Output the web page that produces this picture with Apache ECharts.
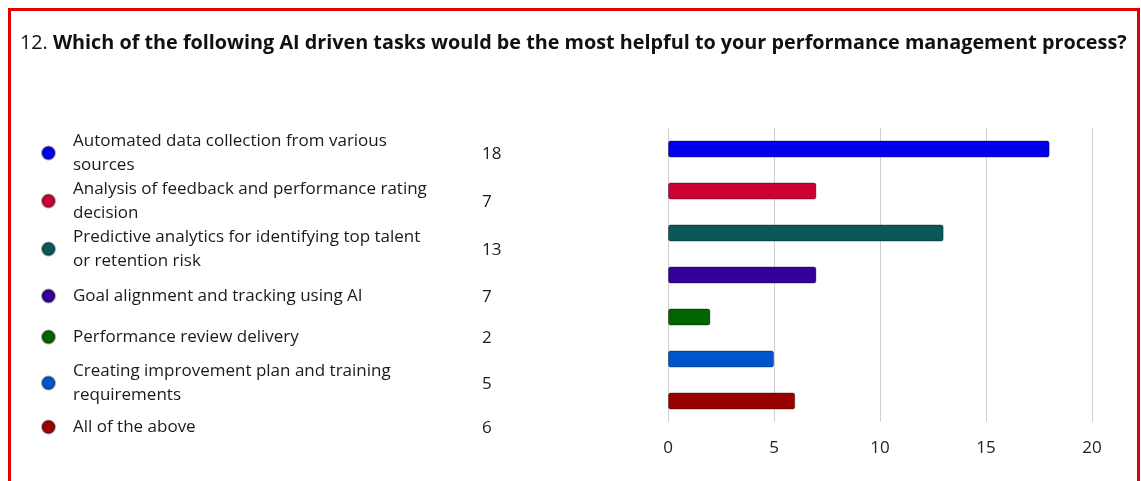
<!DOCTYPE html>
<html>
<head>
<meta charset="utf-8">
<script src="https://cdn.jsdelivr.net/npm/echarts@6/dist/echarts.min.js"></script>
<style>
  html, body { margin: 0; padding: 0; background: #fff; }
  #main { width: 1141px; height: 481px; }
</style>
</head>
<body>
<div id="main"></div>
<script>
// answers, as shown in the list (wrapped the same way)
var categories = [
  'Automated data collection from various\nsources',
  'Analysis of feedback and performance rating\ndecision',
  'Predictive analytics for identifying top talent\nor retention risk',
  'Goal alignment and tracking using AI',
  'Performance review delivery',
  'Creating improvement plan and training\nrequirements',
  'All of the above'
];
var counts = [18, 7, 13, 7, 2, 5, 6];
var colors = ['#0000ee', '#cc0033', '#0a5858', '#330099', '#006400', '#0055cc', '#990000'];
var xTicks = [0, 5, 10, 15, 20];

// legend rows are not evenly spaced in the original
var rowY = [152, 200, 248, 295, 336, 382, 426];

var chart = echarts.init(document.getElementById('main'));
var font = '"Open Sans", "Noto Sans", sans-serif';

// one series per answer, stacked so they share a row each
var series = categories.map(function (name, i) {
  var d = categories.map(function (c, j) { return j === i ? counts[i] : null; });
  return {
    name: name,
    type: 'bar',
    stack: 'all',
    data: d,
    barWidth: 17,
    itemStyle: {
      color: colors[i],
      borderColor: 'rgba(0,0,0,0.35)',
      borderWidth: 1,
      borderRadius: 2
    }
  };
});

var legends = categories.map(function (name, i) {
  var lines = name.split('\n').length;
  return {
    data: [name],
    left: 36,
    top: rowY[i] - lines * 12 - 4,
    orient: 'vertical',
    icon: 'circle',
    itemWidth: 33,
    itemHeight: 13,
    selectedMode: false,
    textStyle: {
      fontFamily: font,
      fontSize: 17,
      lineHeight: 24,
      color: '#1a1a1a',
      padding: [0, 0, 0, 3]
    }
  };
});

var numberTexts = counts.map(function (v, i) {
  return {
    type: 'text',
    left: 482,
    top: rowY[i] - 6,
    style: { text: String(v), font: '17px ' + font, fill: '#1a1a1a' }
  };
});

var option = {
  backgroundColor: '#ffffff',
  animation: false,
  title: {
    text: '{a|12. }{b|Which of the following AI driven tasks would be the most helpful to your performance management process?}',
    left: 15,
    top: 28,
    textStyle: {
      rich: {
        a: { fontFamily: font, fontSize: 19.8, fontWeight: 'normal', color: '#111' },
        b: { fontFamily: font, fontSize: 19.8, fontWeight: 'bold', color: '#111' }
      }
    }
  },
  legend: legends,
  grid: { left: 668, right: 49, top: 128, bottom: 59 },
  xAxis: {
    type: 'value',
    min: xTicks[0],
    max: xTicks[xTicks.length - 1],
    interval: 5,
    axisLine: { show: false },
    axisTick: { show: false },
    splitLine: { lineStyle: { color: '#cfcfcf', width: 1 } },
    axisLabel: { fontFamily: font, fontSize: 17, color: '#222', margin: 18 }
  },
  yAxis: {
    type: 'category',
    data: categories,
    inverse: true,
    axisLine: { show: false },
    axisTick: { show: false },
    axisLabel: { show: false }
  },
  series: series,
  graphic: [
    {
      type: 'rect',
      shape: { x: 9.5, y: 9.5, width: 1129, height: 520 },
      style: { fill: 'none', stroke: '#e00000', lineWidth: 3 }
    }
  ].concat(numberTexts)
};

chart.setOption(option);
</script>
</body>
</html>
